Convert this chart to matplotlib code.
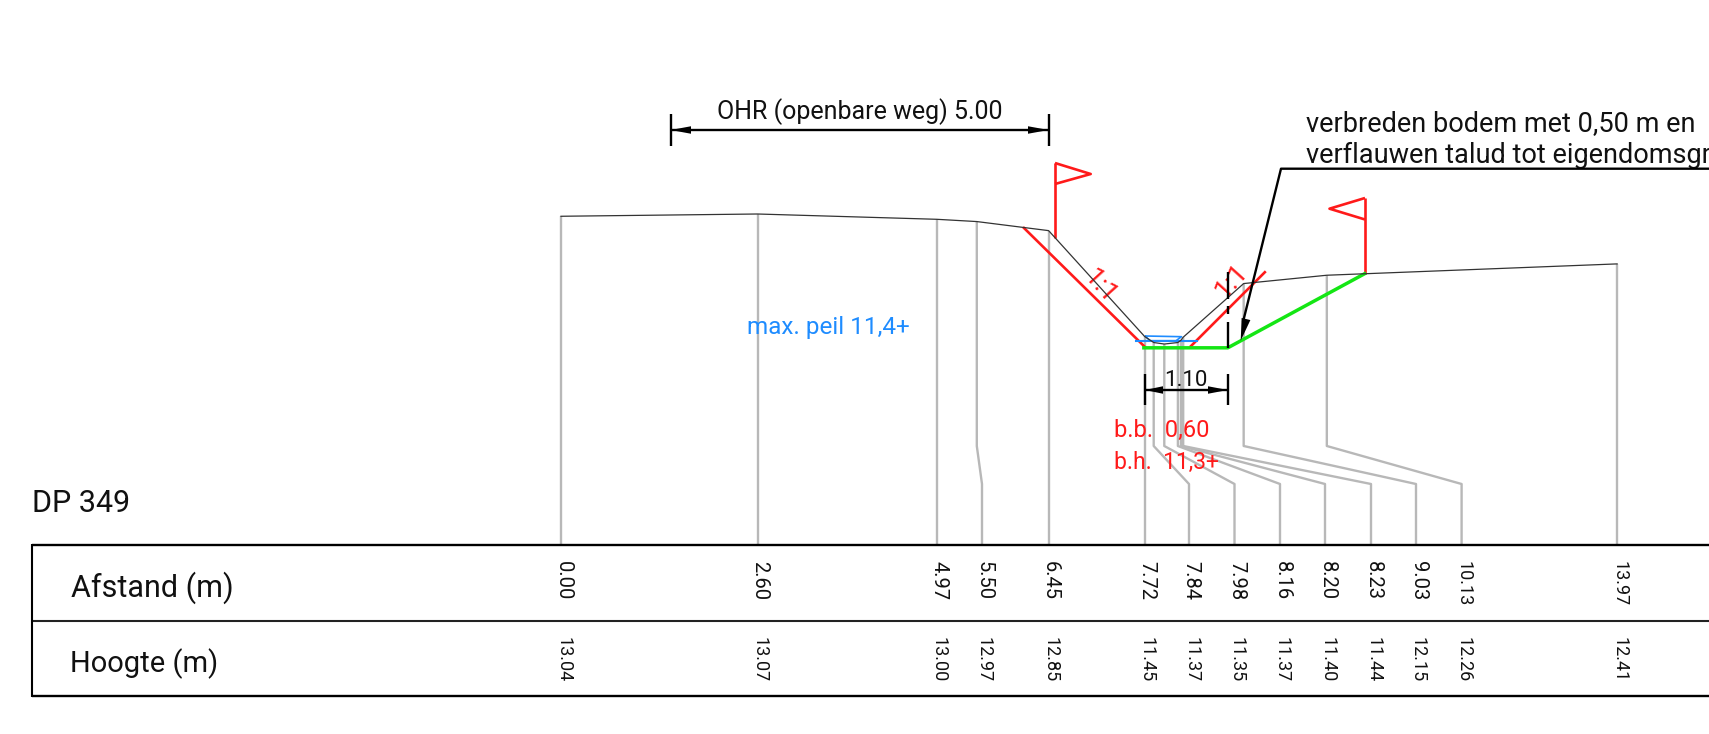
import numpy as np
import matplotlib
matplotlib.use('Agg')
import matplotlib.pyplot as plt

plt.rcParams['font.family'] = ['Roboto', 'DejaVu Sans']
plt.rcParams['font.stretch'] = 'condensed'

# profile data
afstand = [0.00, 2.60, 4.97, 5.50, 6.45, 7.72, 7.84, 7.98, 8.16, 8.20, 8.23, 9.03, 10.13, 13.97]
hoogte = [13.04, 13.07, 13.00, 12.97, 12.85, 11.45, 11.37, 11.35, 11.37, 11.40, 11.44, 12.15, 12.26, 12.41]
afstand_labels = ['0.00', '2.60', '4.97', '5.50', '6.45', '7.72', '7.84', '7.98', '8.16', '8.20', '8.23', '9.03', '10.13', '13.97']
hoogte_labels = ['13.04', '13.07', '13.00', '12.97', '12.85', '11.45', '11.37', '11.35', '11.37', '11.40', '11.44', '12.15', '12.26', '12.41']

# design lines (afstand, hoogte)
red_left_x = [6.124, 7.725]
red_left_y = [12.885, 11.31]
red_right_x = [8.33, 9.31]
red_right_y = [11.32, 12.30]
green_x = [7.71, 8.82, 10.63]
green_y = [11.30, 11.30, 12.28]
water_x = [7.61, 8.41]
water_y = [11.394, 11.394]

# where the stems end up in the table (pixels)
column_px = [561, 757.6, 936.7, 982, 1048.6, 1144.6, 1189, 1234.5, 1280, 1325, 1371, 1416, 1461.6, 1617]

W, H = 1709, 734
SCALE = 75.6
X0, Y0 = 561, 214
TABLE_TOP, TABLE_MID, TABLE_BOTTOM, TABLE_LEFT = 545, 621, 696, 31.5
KINK_TOP, KINK_BOTTOM = 446, 484

GREY = '#b8b8b8'
RED = '#ff1a1a'
GREEN = '#14e614'
BLUE = '#1e8cff'
INK = '#111111'


def m_x(px):
    return (px - X0) / SCALE


def m_y(py):
    return 13.07 - (py - Y0) / SCALE


def line(xs, ys, **kw):
    # xs, ys in pixels
    ax.plot([m_x(v) for v in xs], [m_y(v) for v in ys], solid_capstyle='butt', **kw)


def text(x, y, s, **kw):
    ax.text(m_x(x), m_y(y), s, **kw)


def arrow(tip, tail, width=7.5):
    tip = np.array(tip, float)
    tail = np.array(tail, float)
    d = (tail - tip) / np.hypot(*(tail - tip))
    n = np.array([-d[1], d[0]]) * width / 2
    pts = [tip, tail + n, tail - n]
    ax.fill([m_x(p[0]) for p in pts], [m_y(p[1]) for p in pts], color='black', lw=0, zorder=6)


fig = plt.figure(figsize=(W / 100, H / 100), dpi=100)
ax = fig.add_axes([0, 0, 1, 1])
ax.set_xlim(m_x(0), m_x(W))
ax.set_ylim(m_y(H), m_y(0))
ax.axis('off')

# stems
for a, h, col in zip(afstand, hoogte, column_px):
    px = X0 + a * SCALE
    py = Y0 + (13.07 - h) * SCALE
    if abs(px - col) < 1:
        line([px, px], [py, TABLE_TOP], color=GREY, lw=1.7, zorder=1)
    else:
        line([px, px, col, col], [py, KINK_TOP, KINK_BOTTOM, TABLE_TOP], color=GREY, lw=1.7, zorder=1)

# design, profile, water
ax.plot(red_left_x, red_left_y, color=RED, lw=1.9, zorder=2)
ax.plot(red_right_x, red_right_y, color=RED, lw=1.9, zorder=2)
ax.plot(water_x, water_y, color=BLUE, lw=1.5, zorder=2)
line([1145, 1181.5, 1176, 1150, 1145], [336, 336.7, 340.7, 340.7, 336], color=BLUE, lw=1.2, zorder=2)
ax.plot(green_x, green_y, color=GREEN, lw=2.5, zorder=3)
ax.plot(afstand, hoogte, color='#333333', lw=0.9, zorder=4)

# flags
line([1055, 1055], [163, 238], color=RED, lw=1.9)
line([1055, 1090.7, 1055], [163, 174, 184], color=RED, lw=1.9)
line([1365, 1365], [198, 273.7], color=RED, lw=1.9)
line([1365, 1329.5, 1365], [198, 208.7, 219.5], color=RED, lw=1.9)
text(1100, 287, '1:1', color=RED, fontsize=19, rotation=-48, ha='center', va='center')
text(1232, 281, '1:1', color=RED, fontsize=19, rotation=48, ha='center', va='center')

# OHR dimension
line([670.7, 1048.6], [130, 130], color='black', lw=1.7, zorder=5)
line([670.7, 670.7], [114, 146], color='black', lw=1.7, zorder=5)
line([1048.6, 1048.6], [114, 146], color='black', lw=1.7, zorder=5)
arrow((670.7, 130), (691, 130))
arrow((1048.6, 130), (1028, 130))
text(860, 119, 'OHR (openbare weg) 5.00', color=INK, fontsize=18, ha='center', va='baseline')

# dimension 1.10
line([1145, 1227.7], [390, 390], color='black', lw=1.7, zorder=5)
line([1145, 1145], [374, 405], color='black', lw=1.7, zorder=5)
line([1227.7, 1227.7], [374, 405], color='black', lw=1.7, zorder=5)
arrow((1145, 390), (1163, 390))
arrow((1227.7, 390), (1208, 390))
text(1186, 386, '1.10', color=INK, fontsize=16, ha='center', va='baseline', zorder=7)
for top, bottom in [(271.7, 299), (306, 314), (321.7, 347.7)]:
    line([1227.7, 1227.7], [top, bottom], color='black', lw=1.7, zorder=5)

# leader with note
line([W, 1281, 1243], [168.7, 168.7, 322], color='black', lw=1.7, zorder=5)
arrow((1240.7, 340.7), (1246, 319), width=9)
text(1306, 131.5, 'verbreden bodem met 0,50 m en', color=INK, fontsize=19.5, va='baseline')
text(1306, 162.7, 'verflauwen talud tot eigendomsgrens', color=INK, fontsize=19.5, va='baseline')

# peil and bodem text
text(747, 334, 'max. peil 11,4+', color=BLUE, fontsize=17.5, va='baseline')
text(1114, 437, 'b.b.  0,60', color=RED, fontsize=17, va='baseline')
text(1114, 469, 'b.h.  11,3+', color=RED, fontsize=16.5, va='baseline')

# table
for y in (TABLE_TOP, TABLE_BOTTOM):
    line([TABLE_LEFT, W], [y, y], color='black', lw=1.7, zorder=6)
line([TABLE_LEFT, W], [TABLE_MID, TABLE_MID], color='#222222', lw=1.5, zorder=6)
line([TABLE_LEFT, TABLE_LEFT], [TABLE_TOP - 1, TABLE_BOTTOM + 1], color='black', lw=1.5, zorder=6)
text(32.5, 512, 'DP 349', color=INK, fontsize=22, va='baseline')
text(71, 588, 'Afstand (m)', color=INK, fontsize=22, va='center')
text(70, 664, 'Hoogte (m)', color=INK, fontsize=21, va='center')
for col, a_lab, h_lab in zip(column_px, afstand_labels, hoogte_labels):
    a_size = 14.5 if len(a_lab) == 4 else 13
    text(col + 2, 561, a_lab, color=INK, fontsize=a_size, rotation=270, ha='center', va='top')
    text(col + 2, 637.5, h_lab, color=INK, fontsize=13, rotation=270, ha='center', va='top')

fig.savefig('out.png', dpi=100, facecolor='white')
